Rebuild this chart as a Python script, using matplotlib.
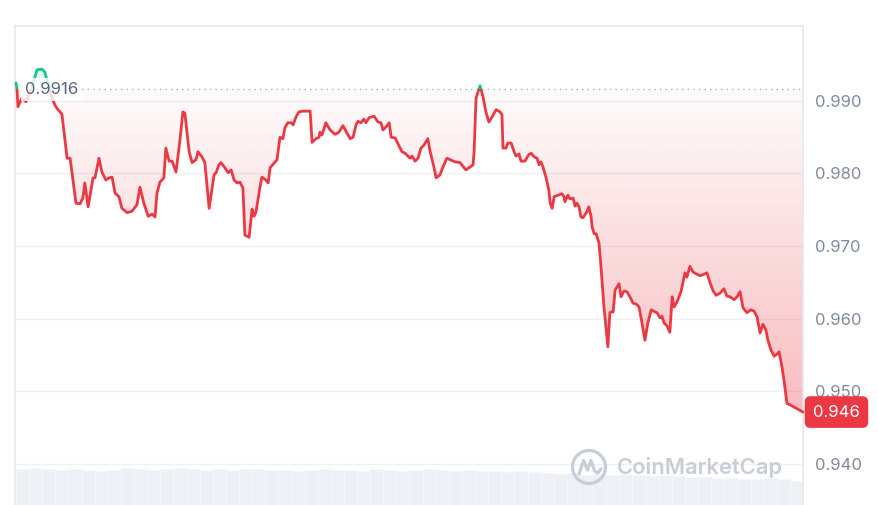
import numpy as np
import matplotlib
matplotlib.use("Agg")
import matplotlib.pyplot as plt
from matplotlib.patches import Polygon, Rectangle, Circle
from matplotlib.lines import Line2D
from matplotlib.colors import to_rgb
from matplotlib.transforms import blended_transform_factory, IdentityTransform

# ---------------- data ----------------
hours = [
    0.00, 0.03, 0.06, 0.18, 0.30, 0.43, 0.55, 0.64, 0.79, 0.88,
    1.04, 1.19, 1.28, 1.40, 1.56, 1.65, 1.83, 1.95, 2.04, 2.10,
    2.20, 2.35, 2.41, 2.53, 2.62, 2.74, 2.84, 2.93, 3.02, 3.14,
    3.23, 3.39, 3.54, 3.69, 3.78, 3.90, 4.03, 4.15, 4.24, 4.30,
    4.39, 4.51, 4.57, 4.67, 4.76, 4.88, 5.00, 5.09, 5.15, 5.28,
    5.37, 5.49, 5.55, 5.67, 5.76, 5.89, 6.04, 6.10, 6.19, 6.25,
    6.37, 6.47, 6.56, 6.65, 6.74, 6.83, 6.92, 6.98, 7.11, 7.20,
    7.26, 7.32, 7.44, 7.50, 7.62, 7.69, 7.75, 7.90, 7.96, 8.05,
    8.14, 8.20, 8.29, 8.39, 8.45, 8.54, 8.63, 8.75, 8.97, 9.03,
    9.15, 9.24, 9.27, 9.33, 9.45, 9.58, 9.73, 9.85, 9.97, 10.09,
    10.19, 10.28, 10.37, 10.43, 10.52, 10.61, 10.67, 10.77, 10.92, 11.04,
    11.13, 11.19, 11.28, 11.38, 11.44, 11.56, 11.65, 11.77, 11.86, 12.02,
    12.08, 12.17, 12.26, 12.35, 12.44, 12.56, 12.63, 12.75, 12.81, 12.93,
    13.02, 13.14, 13.24, 13.39, 13.54, 13.72, 13.85, 13.94, 13.97, 14.03,
    14.15, 14.24, 14.33, 14.42, 14.52, 14.64, 14.76, 14.82, 14.85, 14.94,
    15.00, 15.10, 15.19, 15.25, 15.34, 15.40, 15.52, 15.64, 15.71, 15.80,
    15.89, 15.95, 16.01, 16.07, 16.16, 16.25, 16.29, 16.35, 16.41, 16.53,
    16.65, 16.71, 16.74, 16.83, 16.89, 16.99, 17.05, 17.11, 17.17, 17.23,
    17.29, 17.41, 17.47, 17.54, 17.57, 17.63, 17.69, 17.78, 17.84, 17.93,
    18.02, 18.05, 18.11, 18.15, 18.21, 18.27, 18.39, 18.45, 18.54, 18.63,
    18.72, 18.82, 18.91, 19.00, 19.09, 19.18, 19.27, 19.37, 19.49, 19.55,
    19.64, 19.70, 19.76, 19.85, 19.94, 20.01, 20.07, 20.16, 20.28, 20.40,
    20.46, 20.55, 20.65, 20.77, 20.86, 20.98, 21.07, 21.16, 21.26, 21.35,
    21.47, 21.59, 21.68, 21.77, 21.90, 21.99, 22.08, 22.17, 22.29, 22.41,
    22.51, 22.60, 22.69, 22.78, 22.87, 22.93, 23.02, 23.12, 23.21, 23.27,
    23.36, 23.42, 23.51, 23.60, 24.00,
]
prices = [
    0.9925, 0.9917, 0.9892, 0.9904, 0.9899, 0.9912, 0.9929, 0.9943, 0.9944, 0.9940,
    0.9912, 0.9894, 0.9888, 0.9882, 0.9821, 0.9821, 0.9759, 0.9758, 0.9766, 0.9787,
    0.9754, 0.9794, 0.9794, 0.9821, 0.9802, 0.9791, 0.9794, 0.9795, 0.9773, 0.9768,
    0.9752, 0.9746, 0.9748, 0.9757, 0.9781, 0.9759, 0.9741, 0.9744, 0.9740, 0.9773,
    0.9788, 0.9794, 0.9835, 0.9817, 0.9817, 0.9802, 0.9846, 0.9885, 0.9883, 0.9830,
    0.9815, 0.9819, 0.9830, 0.9823, 0.9815, 0.9752, 0.9798, 0.9801, 0.9812, 0.9815,
    0.9808, 0.9801, 0.9805, 0.9791, 0.9787, 0.9788, 0.9780, 0.9715, 0.9712, 0.9751,
    0.9741, 0.9747, 0.9781, 0.9795, 0.9791, 0.9787, 0.9808, 0.9816, 0.9819, 0.9850,
    0.9848, 0.9863, 0.9870, 0.9870, 0.9867, 0.9878, 0.9885, 0.9886, 0.9886, 0.9843,
    0.9848, 0.9850, 0.9857, 0.9853, 0.9870, 0.9860, 0.9854, 0.9857, 0.9866, 0.9856,
    0.9848, 0.9850, 0.9867, 0.9872, 0.9870, 0.9875, 0.9870, 0.9877, 0.9879, 0.9871,
    0.9870, 0.9860, 0.9864, 0.9870, 0.9850, 0.9849, 0.9841, 0.9830, 0.9828, 0.9821,
    0.9824, 0.9817, 0.9821, 0.9835, 0.9839, 0.9848, 0.9830, 0.9808, 0.9794, 0.9798,
    0.9809, 0.9821, 0.9819, 0.9816, 0.9815, 0.9805, 0.9809, 0.9812, 0.9830, 0.9904,
    0.9921, 0.9906, 0.9885, 0.9871, 0.9878, 0.9888, 0.9885, 0.9881, 0.9835, 0.9835,
    0.9842, 0.9842, 0.9830, 0.9824, 0.9827, 0.9817, 0.9817, 0.9826, 0.9828, 0.9823,
    0.9821, 0.9812, 0.9816, 0.9809, 0.9795, 0.9777, 0.9759, 0.9752, 0.9768, 0.9770,
    0.9772, 0.9768, 0.9761, 0.9770, 0.9765, 0.9766, 0.9755, 0.9759, 0.9754, 0.9740,
    0.9739, 0.9747, 0.9754, 0.9740, 0.9726, 0.9717, 0.9717, 0.9704, 0.9671, 0.9616,
    0.9574, 0.9561, 0.9608, 0.9609, 0.9609, 0.9639, 0.9648, 0.9630, 0.9638, 0.9637,
    0.9630, 0.9621, 0.9620, 0.9616, 0.9594, 0.9570, 0.9594, 0.9612, 0.9609, 0.9608,
    0.9601, 0.9603, 0.9594, 0.9590, 0.9581, 0.9630, 0.9616, 0.9623, 0.9637, 0.9663,
    0.9657, 0.9672, 0.9664, 0.9661, 0.9659, 0.9661, 0.9663, 0.9650, 0.9638, 0.9632,
    0.9635, 0.9641, 0.9631, 0.9630, 0.9626, 0.9630, 0.9637, 0.9615, 0.9608, 0.9612,
    0.9610, 0.9602, 0.9580, 0.9592, 0.9584, 0.9570, 0.9557, 0.9548, 0.9551, 0.9554,
    0.9533, 0.9515, 0.9483, 0.9481, 0.9471,
]
open_price = 0.9916
open_label = "0.9916"
last_label = "0.946"
y_ticks = [0.940, 0.950, 0.960, 0.970, 0.980, 0.990]
y_tick_labels = ["0.940", "0.950", "0.960", "0.970", "0.980", "0.990"]

vol_start = [i * 0.4 for i in range(60)]
volumes = [
    3.6, 3.7, 3.6, 3.5, 3.6, 3.5, 3.4, 3.5, 3.7, 3.6,
    3.5, 3.6, 3.7, 3.6, 3.5, 3.6, 3.5, 3.6, 3.6, 3.5,
    3.5, 3.4, 3.5, 3.6, 3.5, 3.5, 3.4, 3.6, 3.5, 3.4,
    3.5, 3.6, 3.5, 3.4, 3.5, 3.4, 3.4, 3.3, 3.4, 3.3,
    3.2, 3.1, 3.2, 3.0, 3.1, 3.0, 3.1, 3.0, 2.9, 3.0,
    2.9, 2.8, 2.8, 2.7, 2.7, 2.6, 2.6, 2.7, 2.6, 2.4,
]

# ---------------- style ----------------
RED = "#EA3943"
GREEN = "#16C784"
TICK = "#808A9D"
GRID = "#EEF0F3"
FRAME = "#E6E8EC"
FONT = ["Inter", "DejaVu Sans"]
plt.rcParams["font.family"] = FONT

W, H = 879, 505
fig = plt.figure(figsize=(W / 100, H / 100), dpi=100)
fig.patch.set_facecolor("white")

left, right, top = 15, 803, 26
ax = fig.add_axes([left / W, 0, (right - left) / W, (H - top) / H], zorder=2)
vax = fig.add_axes([left / W, 0, (right - left) / W, 45 / H], zorder=1)

XLIM = (-0.03, 24.0)
YLIM = (0.93428, 1.00034)

# volume bars
vax.bar(vol_start, volumes, width=0.4, align="edge", color="#EDF0F5",
        edgecolor="#F5F7FA", linewidth=0.6)
vax.set_xlim(XLIM)
vax.set_ylim(0, 4.5)
vax.axis("off")

ax.patch.set_alpha(0)
h = np.asarray(hours)
p = np.asarray(prices)

# gradient fill below baseline (red)
lower = np.minimum(p, open_price)
poly_red = Polygon(np.column_stack([np.r_[h, h[::-1]],
                                    np.r_[lower, np.full_like(h, open_price)]]),
                   closed=True, transform=ax.transData, fc="none", ec="none")
ax.add_patch(poly_red)
n = 256
grad = np.zeros((n, 1, 4))
grad[..., :3] = to_rgb(RED)
grad[:, 0, 3] = np.linspace(0.36, 0.02, n)
img = ax.imshow(grad, extent=[h[0], h[-1], 0.944, open_price], origin="lower",
                aspect="auto", interpolation="bilinear", zorder=2)
img.set_clip_path(poly_red)

# gradient fill above baseline (green)
upper = np.maximum(p, open_price)
poly_green = Polygon(np.column_stack([np.r_[h, h[::-1]],
                                      np.r_[upper, np.full_like(h, open_price)]]),
                     closed=True, transform=ax.transData, fc="none", ec="none")
ax.add_patch(poly_green)
gradg = np.zeros((n, 1, 4))
gradg[..., :3] = to_rgb(GREEN)
gradg[:, 0, 3] = np.linspace(0.0, 0.2, n)
imgg = ax.imshow(gradg, extent=[h[0], h[-1], open_price, 0.9950], origin="lower",
                 aspect="auto", interpolation="bilinear", zorder=2)
imgg.set_clip_path(poly_green)

# price line: red below baseline, green above
ln_r, = ax.plot(h, p, color=RED, lw=2.0, solid_joinstyle="round",
                solid_capstyle="round", zorder=4)
ln_r.set_clip_path(Rectangle((-5, 0.8), 40, open_price - 0.8, transform=ax.transData))
ln_g, = ax.plot(h, p, color=GREEN, lw=2.0, solid_joinstyle="round",
                solid_capstyle="round", zorder=4)
ln_g.set_clip_path(Rectangle((-5, open_price), 40, 0.2, transform=ax.transData))

# baseline (open price)
ax.axhline(open_price, color="#A6B0C3", lw=1.0, ls=(0, (1, 3)), zorder=3)
bt = blended_transform_factory(ax.transAxes, ax.transData)
ax.text(0.0127, open_price, open_label, transform=bt, ha="left", va="center",
        fontsize=12, color="#58667E", zorder=6,
        bbox=dict(boxstyle="square,pad=0.25", fc="white", ec="none", alpha=0.82))

# last price tag
ax.text(1.0127, p[-1], last_label, transform=bt, ha="left", va="center",
        fontsize=12, color="white", zorder=7, clip_on=False,
        bbox=dict(boxstyle="round,pad=0.5,rounding_size=0.35", fc=RED, ec="none"))

# axes styling
ax.set_xlim(XLIM)
ax.set_ylim(YLIM)
ax.set_xticks([])
ax.yaxis.tick_right()
ax.set_yticks(y_ticks, y_tick_labels)
ax.tick_params(axis="y", length=0, pad=8.6, labelsize=12, labelcolor=TICK)
ax.grid(axis="y", color=GRID, lw=1.0, zorder=0)
ax.set_axisbelow(True)
for s in ("top", "left", "right"):
    ax.spines[s].set_color(FRAME)
    ax.spines[s].set_linewidth(1.2)
ax.spines["bottom"].set_visible(False)

# watermark
WM = "#C8CDD7"
fig.text(617 / W, 1 - 467 / H, "CoinMarketCap", fontsize=15.8, fontweight="semibold",
         color=WM, ha="left", va="center", zorder=5)
cx, cy = 589, H - 467
fig.add_artist(Circle((cx, cy), 16.5, transform=IdentityTransform(), fill=False,
                      lw=2.3, ec=WM, zorder=5))
mx = [cx - 10, cx - 5.5, cx - 1.5, cx + 2, cx + 5.5, cx + 9, cx + 12]
my = [cy - 7, cy + 6.5, cy - 3, cy + 6.5, cy - 4, cy - 6, cy - 2]
fig.add_artist(Line2D(mx, my, transform=IdentityTransform(), lw=2.3, color=WM,
                      solid_joinstyle="round", solid_capstyle="round", zorder=5))

fig.savefig("out.png", dpi=100, facecolor="white")
